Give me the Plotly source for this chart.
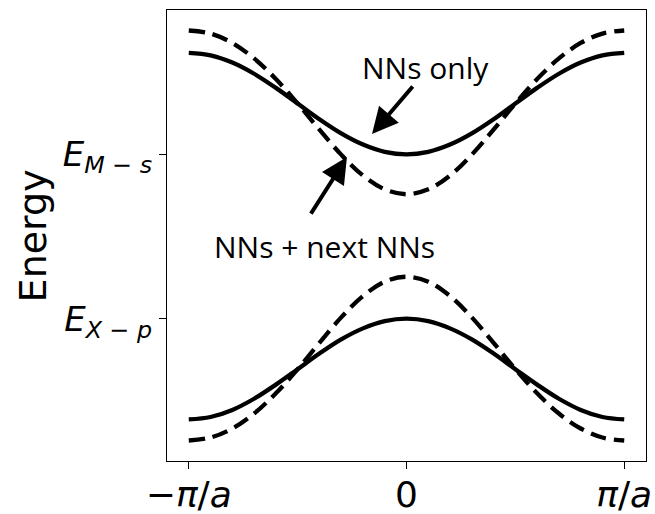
import numpy as np
import plotly.graph_objects as go

# wave-vector samples (units of pi/a)
k_frac = [-1.0, -0.9, -0.8, -0.7, -0.6, -0.5, -0.4, -0.3, -0.2, -0.1, 0.0,
          0.1, 0.2, 0.3, 0.4, 0.5, 0.6, 0.7, 0.8, 0.9, 1.0]

half_upper_solid = [1.617, 1.602, 1.558, 1.490, 1.404, 1.309, 1.213, 1.127, 1.059, 1.015, 1.000]
half_upper_dashed = [1.753, 1.734, 1.677, 1.583, 1.458, 1.309, 1.150, 0.998, 0.871, 0.787, 0.757]
half_lower_solid = [-0.613, -0.598, -0.555, -0.487, -0.401, -0.307, -0.212, -0.126, -0.059, -0.015, 0.000]
half_lower_dashed = [-0.741, -0.723, -0.668, -0.577, -0.454, -0.307, -0.147, 0.008, 0.138, 0.225, 0.255]

upper_solid = half_upper_solid + half_upper_solid[-2::-1]
upper_dashed = half_upper_dashed + half_upper_dashed[-2::-1]
lower_solid = half_lower_solid + half_lower_solid[-2::-1]
lower_dashed = half_lower_dashed + half_lower_dashed[-2::-1]

E_Ms = 1.0
E_Xp = 0.0
xtick_labels = ["−<i>π</i>/<i>a</i>", "0", "<i>π</i>/<i>a</i>"]
ytick_labels = ["<i>E</i><sub><i>X</i> − <i>p</i></sub>", "<i>E</i><sub><i>M</i> − <i>s</i></sub>"]

k = np.array(k_frac) * np.pi

fig = go.Figure()
for ys, dash in [(upper_solid, "solid"), (upper_dashed, "16px,8px"),
                 (lower_solid, "solid"), (lower_dashed, "16px,8px")]:
    fig.add_trace(go.Scatter(x=k, y=ys, mode="lines",
                             line=dict(color="black", width=4.3, dash=dash, shape="spline"),
                             showlegend=False, hoverinfo="skip"))

allv = upper_dashed + lower_dashed
ymin, ymax = min(allv), max(allv)
pad = 0.05 * (ymax - ymin)
xpad = 0.05 * 2 * np.pi

fig.update_layout(
    width=655, height=514,
    margin=dict(l=167, r=9, t=10, b=53, autoexpand=False),
    plot_bgcolor="white", paper_bgcolor="white",
    font=dict(family="DejaVu Sans", color="black"),
    xaxis=dict(range=[-np.pi - xpad, np.pi + xpad], tickvals=[-np.pi, 0, np.pi],
               ticktext=xtick_labels, showgrid=False, zeroline=False,
               showline=True, mirror=True, linecolor="black", linewidth=1,
               ticks="outside", ticklen=7, tickcolor="black", automargin=False,
               ticklabelstandoff=-5,
               tickfont=dict(size=36, family="DejaVu Sans")),
    yaxis=dict(range=[ymin - pad, ymax + pad], tickvals=[E_Xp, E_Ms],
               ticktext=ytick_labels, showgrid=False, zeroline=False,
               showline=True, mirror=True, linecolor="black", linewidth=1,
               ticks="outside", ticklen=7, tickcolor="black", automargin=False,
               tickfont=dict(size=34, family="DejaVu Sans")),
)

fig.add_annotation(xref="paper", yref="paper", x=-0.28, y=0.5,
                   text="Energy", textangle=-90, showarrow=False,
                   font=dict(size=38, family="DejaVu Sans"),
                   xanchor="center", yanchor="middle")

fig.add_annotation(x=-0.498, y=1.123, ax=42, ay=-49, axref="pixel", ayref="pixel",
                   showarrow=True, arrowhead=2, arrowsize=1.3, arrowwidth=4,
                   arrowcolor="black", text="")
fig.add_annotation(x=-0.859, y=0.983, ax=-37, ay=58, axref="pixel", ayref="pixel",
                   showarrow=True, arrowhead=2, arrowsize=1.3, arrowwidth=4,
                   arrowcolor="black", text="")

fig.add_annotation(x=(425 - 406.5) / 217.5 * np.pi, y=1.8777 - (67 - 10) * 0.006087,
                   text="NNs only", showarrow=False,
                   font=dict(size=30, family="Open Sans"), xanchor="center", yanchor="middle")
fig.add_annotation(x=(325 - 406.5) / 217.5 * np.pi, y=1.8777 - (246 - 10) * 0.006087,
                   text="NNs + next NNs", showarrow=False,
                   font=dict(size=30, family="Open Sans"), xanchor="center", yanchor="middle")

fig.write_html("out.html")
